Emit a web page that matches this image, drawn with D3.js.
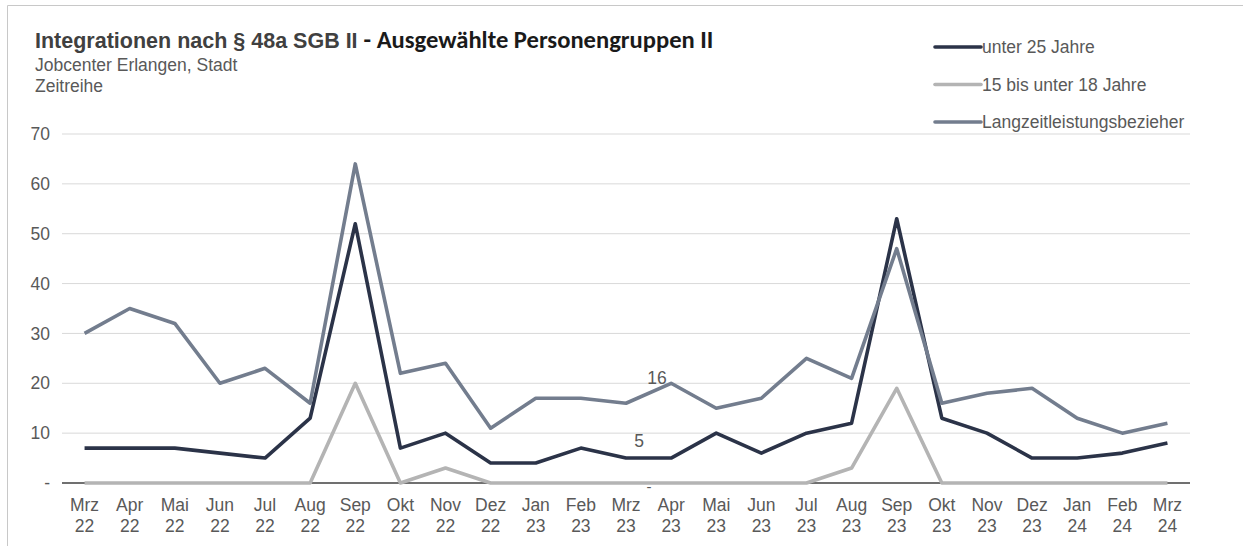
<!DOCTYPE html>
<html>
<head>
<meta charset="utf-8">
<script src="https://cdn.jsdelivr.net/npm/d3@7"></script>
<style>
  body { margin: 0; background: #fff; }
  text { font-family: "Liberation Sans", Arial, sans-serif; fill: #595959; }
</style>
</head>
<body>
<div id="chart"></div>
<script>
const months = ["Mrz","Apr","Mai","Jun","Jul","Aug","Sep","Okt","Nov","Dez","Jan","Feb",
                "Mrz","Apr","Mai","Jun","Jul","Aug","Sep","Okt","Nov","Dez","Jan","Feb","Mrz"];
const years = ["22","22","22","22","22","22","22","22","22","22","23","23",
               "23","23","23","23","23","23","23","23","23","23","24","24","24"];
const unter25 = [7,7,7,6,5,13,52,7,10,4,4,7,5,5,10,6,10,12,53,13,10,5,5,6,8];
const u15bis18 = [0,0,0,0,0,0,20,0,3,0,0,0,0,0,0,0,0,3,19,0,0,0,0,0,0];
const langzeit = [30,35,32,20,23,16,64,22,24,11,17,17,16,20,15,17,25,21,47,16,18,19,13,10,12];
const yTicks = [0,10,20,30,40,50,60,70];
const seriesNames = ["unter 25 Jahre","15 bis unter 18 Jahre","Langzeitleistungsbezieher"];
const colours = ["#2b3348","#b4b4b4","#737d8e"];

const width = 1243, height = 546;
const plotL = 62, plotR = 1190, plotT = 134, plotB = 483;
const fs = "17.5px";

const svg = d3.select("#chart").append("svg").attr("width", width).attr("height", height);

// frame
svg.append("path").attr("d", `M7.5,${height} V5.5 H${width}`)
  .attr("fill","none").attr("stroke","#c8c8c8").attr("stroke-width",1);

const idx = d3.range(months.length);
const x = d3.scaleBand().domain(idx).range([plotL, plotR]);
const y = d3.scaleLinear().domain([0,70]).range([plotB, plotT]);
const cx = i => x(i) + x.bandwidth()/2;

// gridlines
svg.append("g").selectAll("line").data(yTicks.filter(d => d > 0)).enter().append("line")
  .attr("x1", plotL).attr("x2", plotR)
  .attr("y1", d => y(d)).attr("y2", d => y(d))
  .attr("stroke","#d9d9d9").attr("stroke-width",1);

// y labels
svg.append("g").selectAll("text").data(yTicks).enter().append("text")
  .attr("x", 50).attr("y", d => y(d)).attr("dy","0.35em")
  .attr("text-anchor","end").style("font-size", fs)
  .text(d => d === 0 ? "-" : d);

// baseline
svg.append("line").attr("x1", plotL).attr("x2", plotR)
  .attr("y1", y(0)).attr("y2", y(0)).attr("stroke","#404040").attr("stroke-width",1.3);

// x labels
const xl = svg.append("g").selectAll("text").data(idx).enter().append("text")
  .attr("text-anchor","middle").style("font-size", fs);
xl.append("tspan").attr("x", cx).attr("y", 511).text(i => months[i]);
xl.append("tspan").attr("x", cx).attr("y", 532).text(i => years[i]);

// lines
const line = d3.line().x((d,i) => cx(i)).y(d => y(d));
[u15bis18, unter25, langzeit].forEach((s, k) => {
  const c = [colours[1], colours[0], colours[2]][k];
  svg.append("path").datum(s).attr("d", line)
    .attr("fill","none").attr("stroke", c).attr("stroke-width",3.6)
    .attr("stroke-linejoin","round");
});

// data labels at Mrz 23
const li = 12;
svg.append("text").attr("x", cx(li) + 31).attr("y", y(langzeit[li]) - 19)
  .attr("text-anchor","middle").style("font-size", fs).text(langzeit[li]);
svg.append("text").attr("x", cx(li) + 13).attr("y", y(unter25[li]) - 11)
  .attr("text-anchor","middle").style("font-size", fs).text(unter25[li]);
svg.append("text").attr("x", cx(li) + 23).attr("y", y(0) + 9)
  .attr("text-anchor","middle").style("font-size","15px").text("-");

// title
const title = svg.append("text").attr("x", 35).attr("y", 48)
  .style("font-size","21.5px").style("font-weight","bold").style("fill","#404040");
title.append("tspan").text("Integrationen nach § 48a SGB II ");
title.append("tspan").style("font-family","Carlito, Calibri, Lato, sans-serif")
  .style("font-size","24.6px").style("fill","#1a1a1a").text("- Ausgewählte Personengruppen II");
svg.append("text").attr("x", 35).attr("y", 71).style("font-size", fs).text("Jobcenter Erlangen, Stadt");
svg.append("text").attr("x", 35).attr("y", 92).style("font-size", fs).text("Zeitreihe");

// legend
const lg = svg.append("g").selectAll("g").data(seriesNames).enter().append("g")
  .attr("transform", (d,i) => `translate(935,${47 + i*37.5})`);
lg.append("line").attr("x1",0).attr("x2",46).attr("stroke",(d,i) => colours[i])
  .attr("stroke-width",3.6).attr("stroke-linecap","round");
lg.append("text").attr("x",47).attr("dy","0.35em").style("font-size", fs).text(d => d);
</script>
</body>
</html>
